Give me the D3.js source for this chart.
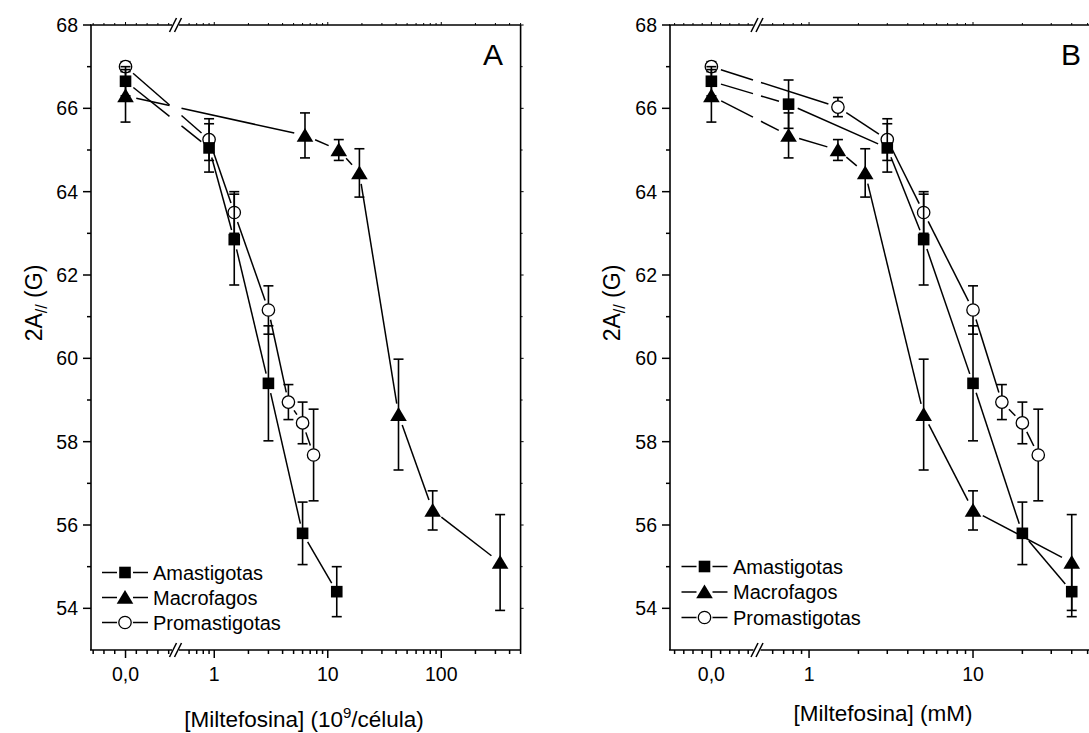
<!DOCTYPE html>
<html><head><meta charset="utf-8">
<script src="https://cdn.jsdelivr.net/npm/d3@7"></script>
<style>
body{margin:0;background:#fff}
svg{display:block}
text{font-family:"Liberation Sans",Arial,sans-serif;fill:#000}
</style>
</head><body>
<svg id="c" width="1089" height="733"></svg>
<script>
// ---------------- DATA ----------------
const seriesNames = ["Amastigotas", "Macrofagos", "Promastigotas"];
const yMajorTicks = [54, 56, 58, 60, 62, 64, 66, 68];
const yMinorTicks = [55, 57, 59, 61, 63, 65, 67];
const zeroTickLabel = "0,0";

// Panel A  (x: 10^9/célula)
const amaX_A = [0, 0.9, 1.5, 3, 6, 12];
const amaY_A = [66.65, 65.05, 62.85, 59.4, 55.8, 54.4];
const amaE_A = [0.35, 0.58, 1.09, 1.38, 0.75, 0.6];
const macX_A = [0, 6.3, 12.5, 19, 42, 84, 330];
const macY_A = [66.3, 65.35, 65.0, 64.45, 58.65, 56.35, 55.1];
const macE_A = [0.63, 0.54, 0.25, 0.58, 1.33, 0.47, 1.15];
const proX_A = [0, 0.9, 1.5, 3, 4.5, 6, 7.5];
const proY_A = [67.0, 65.25, 63.5, 61.16, 58.95, 58.45, 57.68];
const proE_A = [0.12, 0.5, 0.5, 0.58, 0.42, 0.5, 1.1];
const xMajorA = [1, 10, 100];
const xMinorLogA = [0.6, 0.7, 0.8, 0.9, 2, 3, 4, 5, 6, 7, 8, 9, 20, 30, 40, 50, 60, 70, 80, 90, 200, 300, 400, 500];
const xMinorLinA = [-0.3, -0.2, -0.1, 0.1, 0.2, 0.3, 0.4];

// Panel B  (x: mM)
const amaX_B = [0, 0.75, 3, 5, 10, 20, 40];
const amaY_B = [66.65, 66.1, 65.05, 62.85, 59.4, 55.8, 54.4];
const amaE_B = [0.35, 0.58, 0.58, 1.09, 1.38, 0.75, 0.6];
const macX_B = [0, 0.75, 1.5, 2.2, 5, 10, 40];
const macY_B = [66.3, 65.35, 65.0, 64.45, 58.65, 56.35, 55.1];
const macE_B = [0.63, 0.54, 0.25, 0.58, 1.33, 0.47, 1.15];
const proX_B = [0, 1.5, 3, 5, 10, 15, 20, 25];
const proY_B = [67.0, 66.03, 65.25, 63.5, 61.16, 58.95, 58.45, 57.68];
const proE_B = [0.12, 0.23, 0.5, 0.5, 0.58, 0.42, 0.5, 1.1];
const xMajorB = [1, 10];
const xMinorLogB = [0.6, 0.7, 0.8, 0.9, 2, 3, 4, 5, 6, 7, 8, 9, 20, 30, 40, 50];
const xMinorLinB = [-0.4, -0.3, -0.2, -0.1, 0.1, 0.2, 0.3, 0.4];

// ---------------- LAYOUT ----------------
const svg = d3.select("#c");
const Y = d3.scaleLinear().domain([53, 68]).range([650, 25]);
const yTop = 25, yBot = 650;

const panels = [
  {
    linDom: [-0.32, 0.44], linR: [91, 173], logDom: [0.5, 500], logR: [180.1, 520.6],
    left: 91, right: 520.6, bx: 175.5, lineGap: 6,
    major: xMajorA, minorLog: xMinorLogA, minorLin: xMinorLinA,
    series: [
      {name: seriesNames[2], sym: "circle", x: proX_A, y: proY_A, e: proE_A},
      {name: seriesNames[0], sym: "square", x: amaX_A, y: amaY_A, e: amaE_A},
      {name: seriesNames[1], sym: "triangle", x: macX_A, y: macY_A, e: macE_A}
    ],
    letter: "A", letterX: 503,
    legX: 125, legY: [572.5, 597.5, 622.5], legTextX: 153,
    yTitleX: 42, titleY: 727,
    xTitle: ["[Miltefosina] (10", "9", "/célula)"], xTitleX: 304
  },
  {
    linDom: [-0.45, 0.46], linR: [670, 753.7], logDom: [0.5, 60], logR: [759.7, 1100.6],
    left: 670, right: 1100.6, bx: 757, lineGap: 4,
    major: xMajorB, minorLog: xMinorLogB, minorLin: xMinorLinB,
    series: [
      {name: seriesNames[2], sym: "circle", x: proX_B, y: proY_B, e: proE_B},
      {name: seriesNames[0], sym: "square", x: amaX_B, y: amaY_B, e: amaE_B},
      {name: seriesNames[1], sym: "triangle", x: macX_B, y: macY_B, e: macE_B}
    ],
    letter: "B", letterX: 1081,
    legX: 704.5, legY: [566.5, 592, 617.5], legTextX: 733,
    yTitleX: 620, titleY: 721,
    xTitle: ["[Miltefosina] (mM)"], xTitleX: 883
  }
];

const legendOrder = [seriesNames[0], seriesNames[1], seriesNames[2]];
const symOf = {}; symOf[seriesNames[0]] = "square"; symOf[seriesNames[1]] = "triangle"; symOf[seriesNames[2]] = "circle";

function drawSym(g, sym, cx, cy) {
  if (sym === "square") {
    g.append("rect").attr("x", cx - 5.8).attr("y", cy - 5.8).attr("width", 11.6).attr("height", 11.6)
      .attr("fill", "#000");
  } else if (sym === "triangle") {
    g.append("path").attr("d", `M${cx},${cy - 7.5}L${cx + 8.3},${cy + 6.3}L${cx - 8.3},${cy + 6.3}Z`)
      .attr("fill", "#000");
  } else {
    g.append("circle").attr("cx", cx).attr("cy", cy).attr("r", 6.2)
      .attr("fill", "#fff").attr("stroke", "#000").attr("stroke-width", 1.3);
  }
}

panels.forEach(P => {
  const g = svg.append("g");
  const xl = d3.scaleLinear().domain(P.linDom).range(P.linR);
  const xg = d3.scaleLog().domain(P.logDom).range(P.logR);
  const X = v => (v < P.logDom[0] ? xl(v) : xg(v));

  const axisStroke = 1.6;
  g.append("line").attr("x1", P.left).attr("x2", P.left).attr("y1", yTop).attr("y2", yBot)
    .attr("stroke", "#000").attr("stroke-width", axisStroke);
  g.append("line").attr("x1", P.right).attr("x2", P.right).attr("y1", yTop).attr("y2", yBot)
    .attr("stroke", "#000").attr("stroke-width", axisStroke);
  [yTop, yBot].forEach(yy => {
    g.append("line").attr("x1", P.left - 1).attr("x2", P.bx - 3.5).attr("y1", yy).attr("y2", yy)
      .attr("stroke", "#000").attr("stroke-width", axisStroke);
    g.append("line").attr("x1", P.bx + 3.5).attr("x2", P.right).attr("y1", yy).attr("y2", yy)
      .attr("stroke", "#000").attr("stroke-width", axisStroke);
    [-2.5, 2.5].forEach(o => {
      g.append("line").attr("x1", P.bx + o - 3.5).attr("y1", yy + 7).attr("x2", P.bx + o + 3.5).attr("y2", yy - 7)
        .attr("stroke", "#000").attr("stroke-width", 1.5);
    });
  });

  yMajorTicks.forEach(v => {
    g.append("line").attr("x1", P.left - 8).attr("x2", P.left).attr("y1", Y(v)).attr("y2", Y(v))
      .attr("stroke", "#000").attr("stroke-width", 1.5);
    g.append("line").attr("x1", P.right).attr("x2", P.right + 3).attr("y1", Y(v)).attr("y2", Y(v))
      .attr("stroke", "#000").attr("stroke-width", 1);
    g.append("text").attr("x", P.left - 13).attr("y", Y(v) + 7).attr("text-anchor", "end")
      .style("font-size", "19.5px").text(v);
  });
  yMinorTicks.forEach(v => {
    g.append("line").attr("x1", P.left - 4).attr("x2", P.left).attr("y1", Y(v)).attr("y2", Y(v))
      .attr("stroke", "#000").attr("stroke-width", 1.5);
    g.append("line").attr("x1", P.right).attr("x2", P.right + 2).attr("y1", Y(v)).attr("y2", Y(v))
      .attr("stroke", "#000").attr("stroke-width", 1);
  });

  const majors = [{v: 0, lab: zeroTickLabel}].concat(P.major.map(v => ({v, lab: String(v)})));
  majors.forEach(m => {
    const xx = X(m.v);
    g.append("line").attr("x1", xx).attr("x2", xx).attr("y1", yBot).attr("y2", yBot + 8)
      .attr("stroke", "#000").attr("stroke-width", 1.5);
    g.append("line").attr("x1", xx).attr("x2", xx).attr("y1", yTop).attr("y2", yTop - 3)
      .attr("stroke", "#000").attr("stroke-width", 1);
    g.append("text").attr("x", xx).attr("y", 680.5).attr("text-anchor", "middle")
      .style("font-size", "19.5px").text(m.lab);
  });
  P.minorLin.concat(P.minorLog).forEach(v => {
    const xx = X(v);
    if (xx > P.right + 0.5) return;
    g.append("line").attr("x1", xx).attr("x2", xx).attr("y1", yBot).attr("y2", yBot + 4)
      .attr("stroke", "#000").attr("stroke-width", 1.5);
    g.append("line").attr("x1", xx).attr("x2", xx).attr("y1", yTop).attr("y2", yTop - 2)
      .attr("stroke", "#000").attr("stroke-width", 1);
  });

  const symGap = {circle: 10, square: 10, triangle: 11};
  const lines = g.append("g");
  P.series.forEach(S => {
    for (let i = 0; i < S.x.length - 1; i++) {
      const x1 = X(S.x[i]), y1 = Y(S.y[i]), x2 = X(S.x[i + 1]), y2 = Y(S.y[i + 1]);
      const L = Math.hypot(x2 - x1, y2 - y1);
      const gp = symGap[S.sym];
      let t0 = gp / L, t1 = 1 - gp / L;
      if (t1 <= t0) continue;
      const pieces = [];
      if (x1 < P.bx && x2 > P.bx) {
        const ta = (P.bx - P.lineGap - x1) / (x2 - x1);
        const tb = (P.bx + P.lineGap - x1) / (x2 - x1);
        pieces.push([t0, Math.min(ta, t1)]);
        pieces.push([Math.max(tb, t0), t1]);
      } else pieces.push([t0, t1]);
      pieces.forEach(([a, b]) => {
        if (b <= a) return;
        lines.append("line")
          .attr("x1", x1 + (x2 - x1) * a).attr("y1", y1 + (y2 - y1) * a)
          .attr("x2", x1 + (x2 - x1) * b).attr("y2", y1 + (y2 - y1) * b)
          .attr("stroke", "#000").attr("stroke-width", 1.5);
      });
    }
  });

  P.series.forEach(S => {
    const sg = g.append("g");
    S.x.forEach((xv, i) => {
      const xx = X(xv), hi = Y(S.y[i] + S.e[i]), lo = Y(S.y[i] - S.e[i]);
      sg.append("line").attr("x1", xx).attr("x2", xx).attr("y1", hi).attr("y2", lo)
        .attr("stroke", "#000").attr("stroke-width", 1.6);
      [hi, lo].forEach(yy => sg.append("line").attr("x1", xx - 5).attr("x2", xx + 5)
        .attr("y1", yy).attr("y2", yy).attr("stroke", "#000").attr("stroke-width", 1.6));
    });
    S.x.forEach((xv, i) => drawSym(sg, S.sym, X(xv), Y(S.y[i])));
  });

  legendOrder.forEach((name, i) => {
    const cy = P.legY[i];
    g.append("line").attr("x1", P.legX - 23).attr("x2", P.legX + 23).attr("y1", cy).attr("y2", cy)
      .attr("stroke", "#000").attr("stroke-width", 1.5);
    if (symOf[name] === "circle") {
      g.append("circle").attr("cx", P.legX).attr("cy", cy).attr("r", 8).attr("fill", "#fff");
    } else {
      g.append("rect").attr("x", P.legX - 8).attr("y", cy - 8).attr("width", 16).attr("height", 16).attr("fill", "#fff");
    }
    drawSym(g, symOf[name], P.legX, cy);
    g.append("text").attr("x", P.legTextX).attr("y", cy + 7).style("font-size", "20px").text(name);
  });

  g.append("text").attr("x", P.letterX).attr("y", 65).attr("text-anchor", "end")
    .style("font-size", "30px").text(P.letter);

  const yt = g.append("text").attr("transform", `translate(${P.yTitleX},303) rotate(-90)`)
    .attr("text-anchor", "middle").style("font-size", "23px");
  yt.append("tspan").text("2A");
  yt.append("tspan").attr("dy", 5).style("font-size", "16px").text("//");
  yt.append("tspan").attr("dy", -5).text(" (G)");

  const xt = g.append("text").attr("x", P.xTitleX).attr("y", P.titleY)
    .attr("text-anchor", "middle").style("font-size", "22.5px");
  if (P.xTitle.length === 3) {
    xt.append("tspan").text(P.xTitle[0]);
    xt.append("tspan").attr("dy", -9).style("font-size", "15px").text(P.xTitle[1]);
    xt.append("tspan").attr("dy", 9).text(P.xTitle[2]);
  } else {
    xt.text(P.xTitle[0]);
  }
});
</script>
</body></html>
